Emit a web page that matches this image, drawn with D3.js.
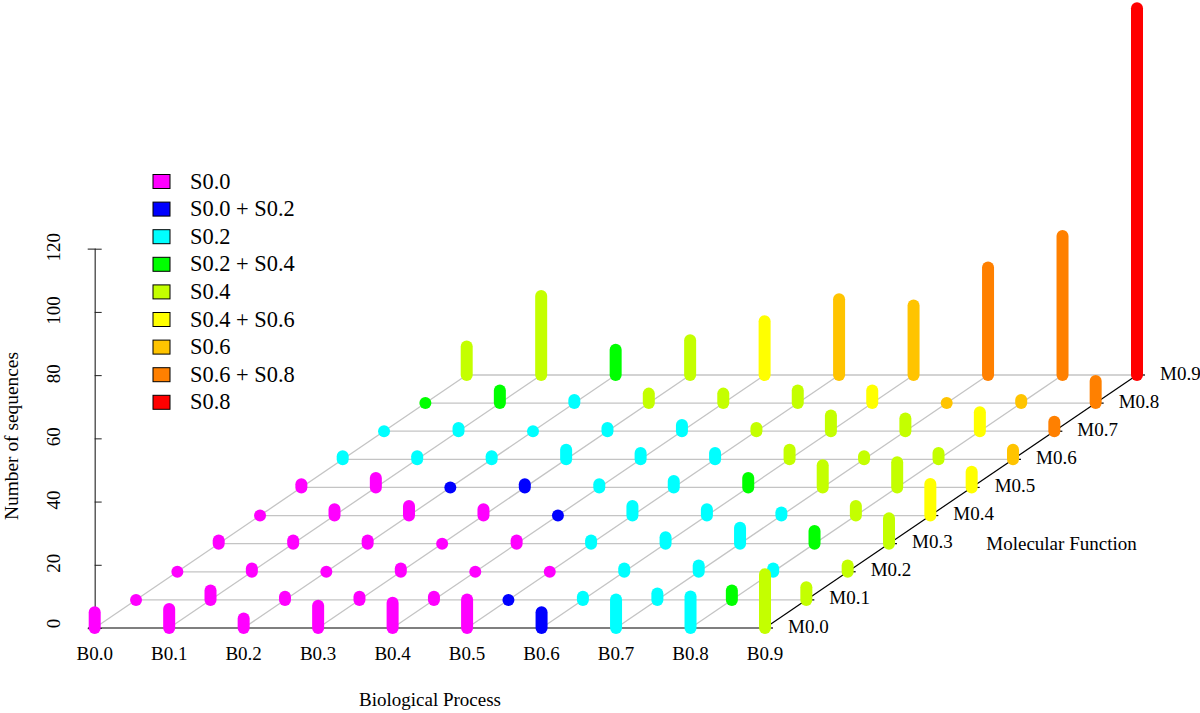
<!DOCTYPE html>
<html>
<head>
<meta charset="utf-8">
<script src="https://cdnjs.cloudflare.com/ajax/libs/d3/7.8.5/d3.min.js"></script>
<style>
  html, body { margin: 0; background: #fff; }
  text { font-family: "Liberation Serif", serif; fill: #000; }
</style>
</head>
<body>
<script>
const bpLabels = ["B0.0", "B0.1", "B0.2", "B0.3", "B0.4", "B0.5", "B0.6", "B0.7", "B0.8", "B0.9"];
const mfLabels = ["M0.0", "M0.1", "M0.2", "M0.3", "M0.4", "M0.5", "M0.6", "M0.7", "M0.8", "M0.9"];
const legendNames = ["S0.0", "S0.0 + S0.2", "S0.2", "S0.2 + S0.4", "S0.4", "S0.4 + S0.6", "S0.6", "S0.6 + S0.8", "S0.8"];
const legendColors = ["#ff00ff", "#0000ff", "#00ffff", "#00ff00", "#c4ff00", "#ffff00", "#ffc400", "#ff8000", "#ff0000"];
const yTicks = [0, 20, 40, 60, 80, 100, 120];

// counts per row, M0.0 first, columns B0.0 .. B0.9
const counts = [
  [5, 6, 3, 7, 8, 9, 5, 9, 10, 17],
  [0, 3, 1, 1, 1, 0, 1, 2, 3, 4],
  [0, 1, 0, 1, 0, 0, 1, 2, 1, 2],
  [1, 1, 1, 0, 1, 1, 2, 5, 4, 8],
  [0, 2, 3, 2, 0, 3, 2, 1, 3, 10],
  [1, 3, 0, 1, 1, 2, 3, 7, 8, 5],
  [1, 1, 1, 3, 2, 2, 3, 1, 2, 3],
  [0, 1, 0, 1, 2, 1, 5, 4, 6, 3],
  [0, 4, 1, 3, 3, 4, 4, 0, 1, 7],
  [9, 25, 8, 11, 17, 24, 22, 34, 44, 116]
];
// index into legendNames for the same cells
const classes = [
  [0, 0, 0, 0, 0, 0, 1, 2, 2, 4],
  [0, 0, 0, 0, 0, 1, 2, 2, 3, 4],
  [0, 0, 0, 0, 0, 0, 2, 2, 2, 4],
  [0, 0, 0, 0, 0, 2, 2, 2, 3, 4],
  [0, 0, 0, 0, 1, 2, 2, 2, 4, 5],
  [0, 0, 1, 1, 2, 2, 3, 4, 4, 5],
  [2, 2, 2, 2, 2, 2, 4, 4, 4, 6],
  [2, 2, 2, 2, 2, 4, 4, 4, 5, 7],
  [3, 3, 2, 4, 4, 4, 5, 6, 6, 7],
  [4, 4, 3, 4, 5, 6, 6, 7, 7, 8]
];

const w = 1200;
const h = 713;

const svg = d3.select("body").append("svg")
  .attr("width", w)
  .attr("height", h)
  .style("display", "block");

// oblique projection, like scatterplot3d
const xScale = d3.scaleLinear().domain([0, 9]).range([94.7, 765]);
const mShift = d3.scaleLinear().domain([0, 9]).range([0, 372]);
const rowY = d3.scaleLinear().domain([0, 9]).range([628, 375]);
const yScale = d3.scaleLinear().domain([0, 120]).range([628, 248.7]);
const px = (b, m) => xScale(b) + mShift(m);
const idx = d3.range(10);

// grid
const grid = svg.append("g").attr("stroke", "#c4c4c4").attr("stroke-width", 1.3);
idx.slice(1).forEach(m => {
  grid.append("line")
    .attr("x1", px(0, m)).attr("x2", px(9, m))
    .attr("y1", rowY(m)).attr("y2", rowY(m));
});
idx.slice(0, 9).forEach(b => {
  grid.append("line")
    .attr("x1", px(b, 0)).attr("x2", px(b, 9))
    .attr("y1", rowY(0)).attr("y2", rowY(9));
});

// y axis
const yAxis = d3.axisLeft(yScale).tickValues(yTicks).tickSize(7).tickPadding(0);
const yAxisGroup = svg.append("g")
  .attr("transform", `translate(${xScale(0)}, 0)`)
  .call(yAxis);
yAxisGroup.select(".domain").attr("stroke", "#444").attr("stroke-width", 1.3);
yAxisGroup.selectAll(".tick line").attr("x2", 7).attr("stroke", "#222");
yAxisGroup.selectAll(".tick text")
  .attr("transform", "rotate(-90)")
  .attr("x", d => d === 0 ? 5 : 2)
  .attr("y", -35)
  .attr("dy", 0)
  .style("text-anchor", "middle")
  .style("font-family", '"Liberation Serif", serif')
  .style("font-size", "19px");

// front axes
const axes = svg.append("g").attr("stroke", "#000").attr("stroke-width", 1.2);
axes.append("line")
  .attr("x1", 88).attr("x2", px(9, 0))
  .attr("y1", rowY(0)).attr("y2", rowY(0));
axes.append("line")
  .attr("x1", px(9, 0)).attr("x2", px(9, 9))
  .attr("y1", rowY(0)).attr("y2", rowY(9));
axes.selectAll(".mtick")
  .data(idx)
  .enter()
  .append("line")
  .attr("x1", m => px(9, m))
  .attr("x2", m => px(9, m) + 8)
  .attr("y1", m => rowY(m))
  .attr("y2", m => rowY(m));

// bars, back row first so the front ones cover them
const cells = [];
idx.slice().reverse().forEach(m => {
  idx.forEach(b => {
    cells.push({ b: b, m: m, v: counts[m][b], c: classes[m][b] });
  });
});

svg.append("g").selectAll("line")
  .data(cells)
  .enter()
  .append("line")
  .attr("x1", d => px(d.b, d.m))
  .attr("x2", d => px(d.b, d.m))
  .attr("y1", d => rowY(d.m))
  .attr("y2", d => rowY(d.m) - (yScale(0) - yScale(d.v)) - 0.01)
  .attr("stroke", d => legendColors[d.c])
  .attr("stroke-width", 12)
  .attr("stroke-linecap", "round");

// tick labels
svg.append("g").selectAll("text")
  .data(bpLabels)
  .enter()
  .append("text")
  .attr("x", (d, i) => xScale(i))
  .attr("y", 660)
  .attr("text-anchor", "middle")
  .style("font-size", "19px")
  .text(d => d);

svg.append("g").selectAll("text")
  .data(mfLabels)
  .enter()
  .append("text")
  .attr("x", (d, i) => px(9, i) + 23)
  .attr("y", (d, i) => rowY(i) + 4.5)
  .style("font-size", "19px")
  .text(d => d);

// axis titles
svg.append("text")
  .attr("x", 430).attr("y", 706)
  .attr("text-anchor", "middle")
  .style("font-size", "19px")
  .text("Biological Process");

svg.append("text")
  .attr("x", 1061.5).attr("y", 550)
  .attr("text-anchor", "middle")
  .style("font-size", "19px")
  .text("Molecular Function");

svg.append("text")
  .attr("transform", "translate(17.5, 436) rotate(-90)")
  .attr("text-anchor", "middle")
  .style("font-size", "19.4px")
  .text("Number of sequences");

// legend
const legend = svg.append("g").selectAll("g")
  .data(legendNames)
  .enter()
  .append("g")
  .attr("transform", (d, i) => `translate(153, ${174.5 + i * 27.6})`);

legend.append("rect")
  .attr("width", 17)
  .attr("height", 14)
  .attr("fill", (d, i) => legendColors[i])
  .attr("stroke", "#000")
  .attr("stroke-width", 1);

legend.append("text")
  .attr("x", 37)
  .attr("y", 14)
  .style("font-size", "22.4px")
  .text(d => d);
</script>
</body>
</html>
